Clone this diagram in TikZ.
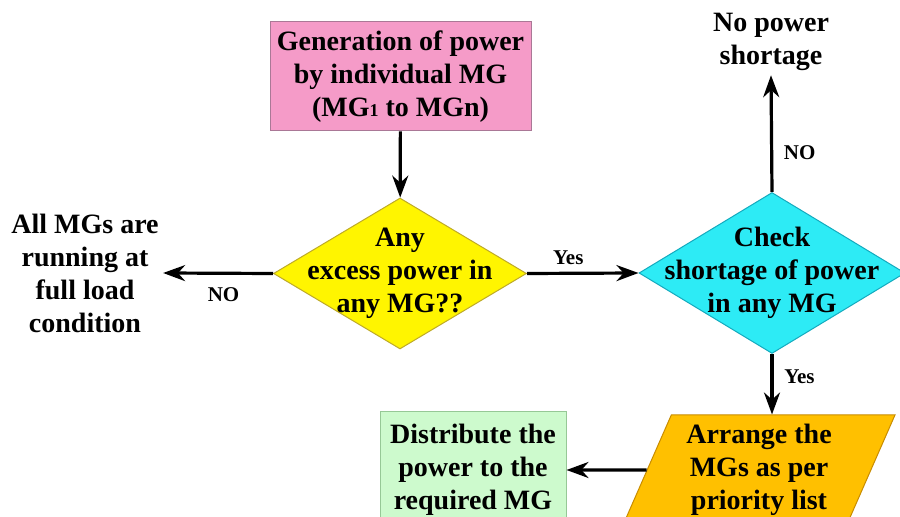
\documentclass[tikz,border=0pt]{standalone}
\usepackage{fontspec}
\setmainfont{Liberation Serif}
\usetikzlibrary{shapes.geometric, arrows.meta}
\definecolor{genFill}{RGB}{245, 155, 200}
\definecolor{genLine}{RGB}{170, 120, 150}
\definecolor{excessFill}{RGB}{255, 245, 0}
\definecolor{excessLine}{RGB}{190, 170, 40}
\definecolor{checkFill}{RGB}{45, 235, 245}
\definecolor{checkLine}{RGB}{20, 170, 190}
\definecolor{arrangeFill}{RGB}{255, 192, 0}
\definecolor{arrangeLine}{RGB}{200, 140, 0}
\definecolor{distribFill}{RGB}{205, 250, 205}
\definecolor{distribLine}{RGB}{150, 200, 150}
\tikzset{
    flow_text/.style={
        font=\fontsize{14}{16.5}\selectfont\bfseries,
        align=center
    },
    flow_box/.style={
        rectangle,
        flow_text,
        line width=0.5pt,
        inner sep=2pt
    },
    flow_slant/.style={
        flow_box,
        trapezium,
        trapezium left angle=67,
        trapezium right angle=113,
        trapezium stretches=true
    },
    flow_diamond/.style={
        diamond,
        line width=0.5pt,
        inner sep=0pt
    },
    flow_edge/.style={
        -{Stealth[length=11pt, width=8pt]},
        line width=1.6pt,
        draw=black
    },
    edge_label/.style={
        font=\fontsize{10.5}{12}\selectfont\bfseries
    }
}

\begin{document}
\begin{tikzpicture}[x=0.5pt, y=-0.5pt]
        \useasboundingbox (0,0) rectangle (900,517);
        \clip (0,0) rectangle (900,517);

        \node[flow_box, fill=genFill, draw=genLine, minimum width=130.5pt, minimum height=54.5pt]
            (gen) at (400.5,76.5) {Generation of power\\by individual MG\\(MG{\fontsize{9}{9}\selectfont 1} to MGn)};
        \node[flow_diamond, fill=excessFill, draw=excessLine, minimum width=126.5pt, minimum height=75.5pt,
            label={[flow_text]center:Any\\excess power in\\any MG??}] (excess) at (400,273.5) {};
        \node[flow_diamond, fill=checkFill, draw=checkLine, minimum width=133pt, minimum height=80.5pt,
            label={[flow_text]center:Check\\shortage of power\\in any MG}] (check) at (772,273) {};
        \node[flow_slant, fill=arrangeFill, draw=arrangeLine, minimum width=136pt, minimum height=55pt]
            (arrange) at (759,470) {Arrange the\\MGs as per\\priority list};
        \node[flow_box, fill=distribFill, draw=distribLine, minimum width=93pt, minimum height=58pt]
            (distrib) at (473,470) {Distribute the\\power to the\\required MG};
        \node[flow_box] (full) at (85,273) {All MGs are\\running at\\full load\\condition};
        \node[flow_box] (noshort) at (771,42) {No power\\shortage};

        \draw[flow_edge] (gen) -- (excess);
        \draw[flow_edge] (excess.west) -- node[edge_label, pos=0.45, below=3pt] {NO} (full.east);
        \draw[flow_edge] (excess.east) -- node[edge_label, pos=0.37, above] {Yes} (check.west);
        \draw[flow_edge] (check.north) -- node[edge_label, pos=0.34, right=2pt] {NO} (noshort.south);
        \draw[flow_edge] (check.south) -- node[edge_label, pos=0.37, right=2pt] {Yes} (check.south |- arrange.north);
        \draw[flow_edge] (arrange.west) -- (distrib.east);
    \end{tikzpicture}
\end{document}
